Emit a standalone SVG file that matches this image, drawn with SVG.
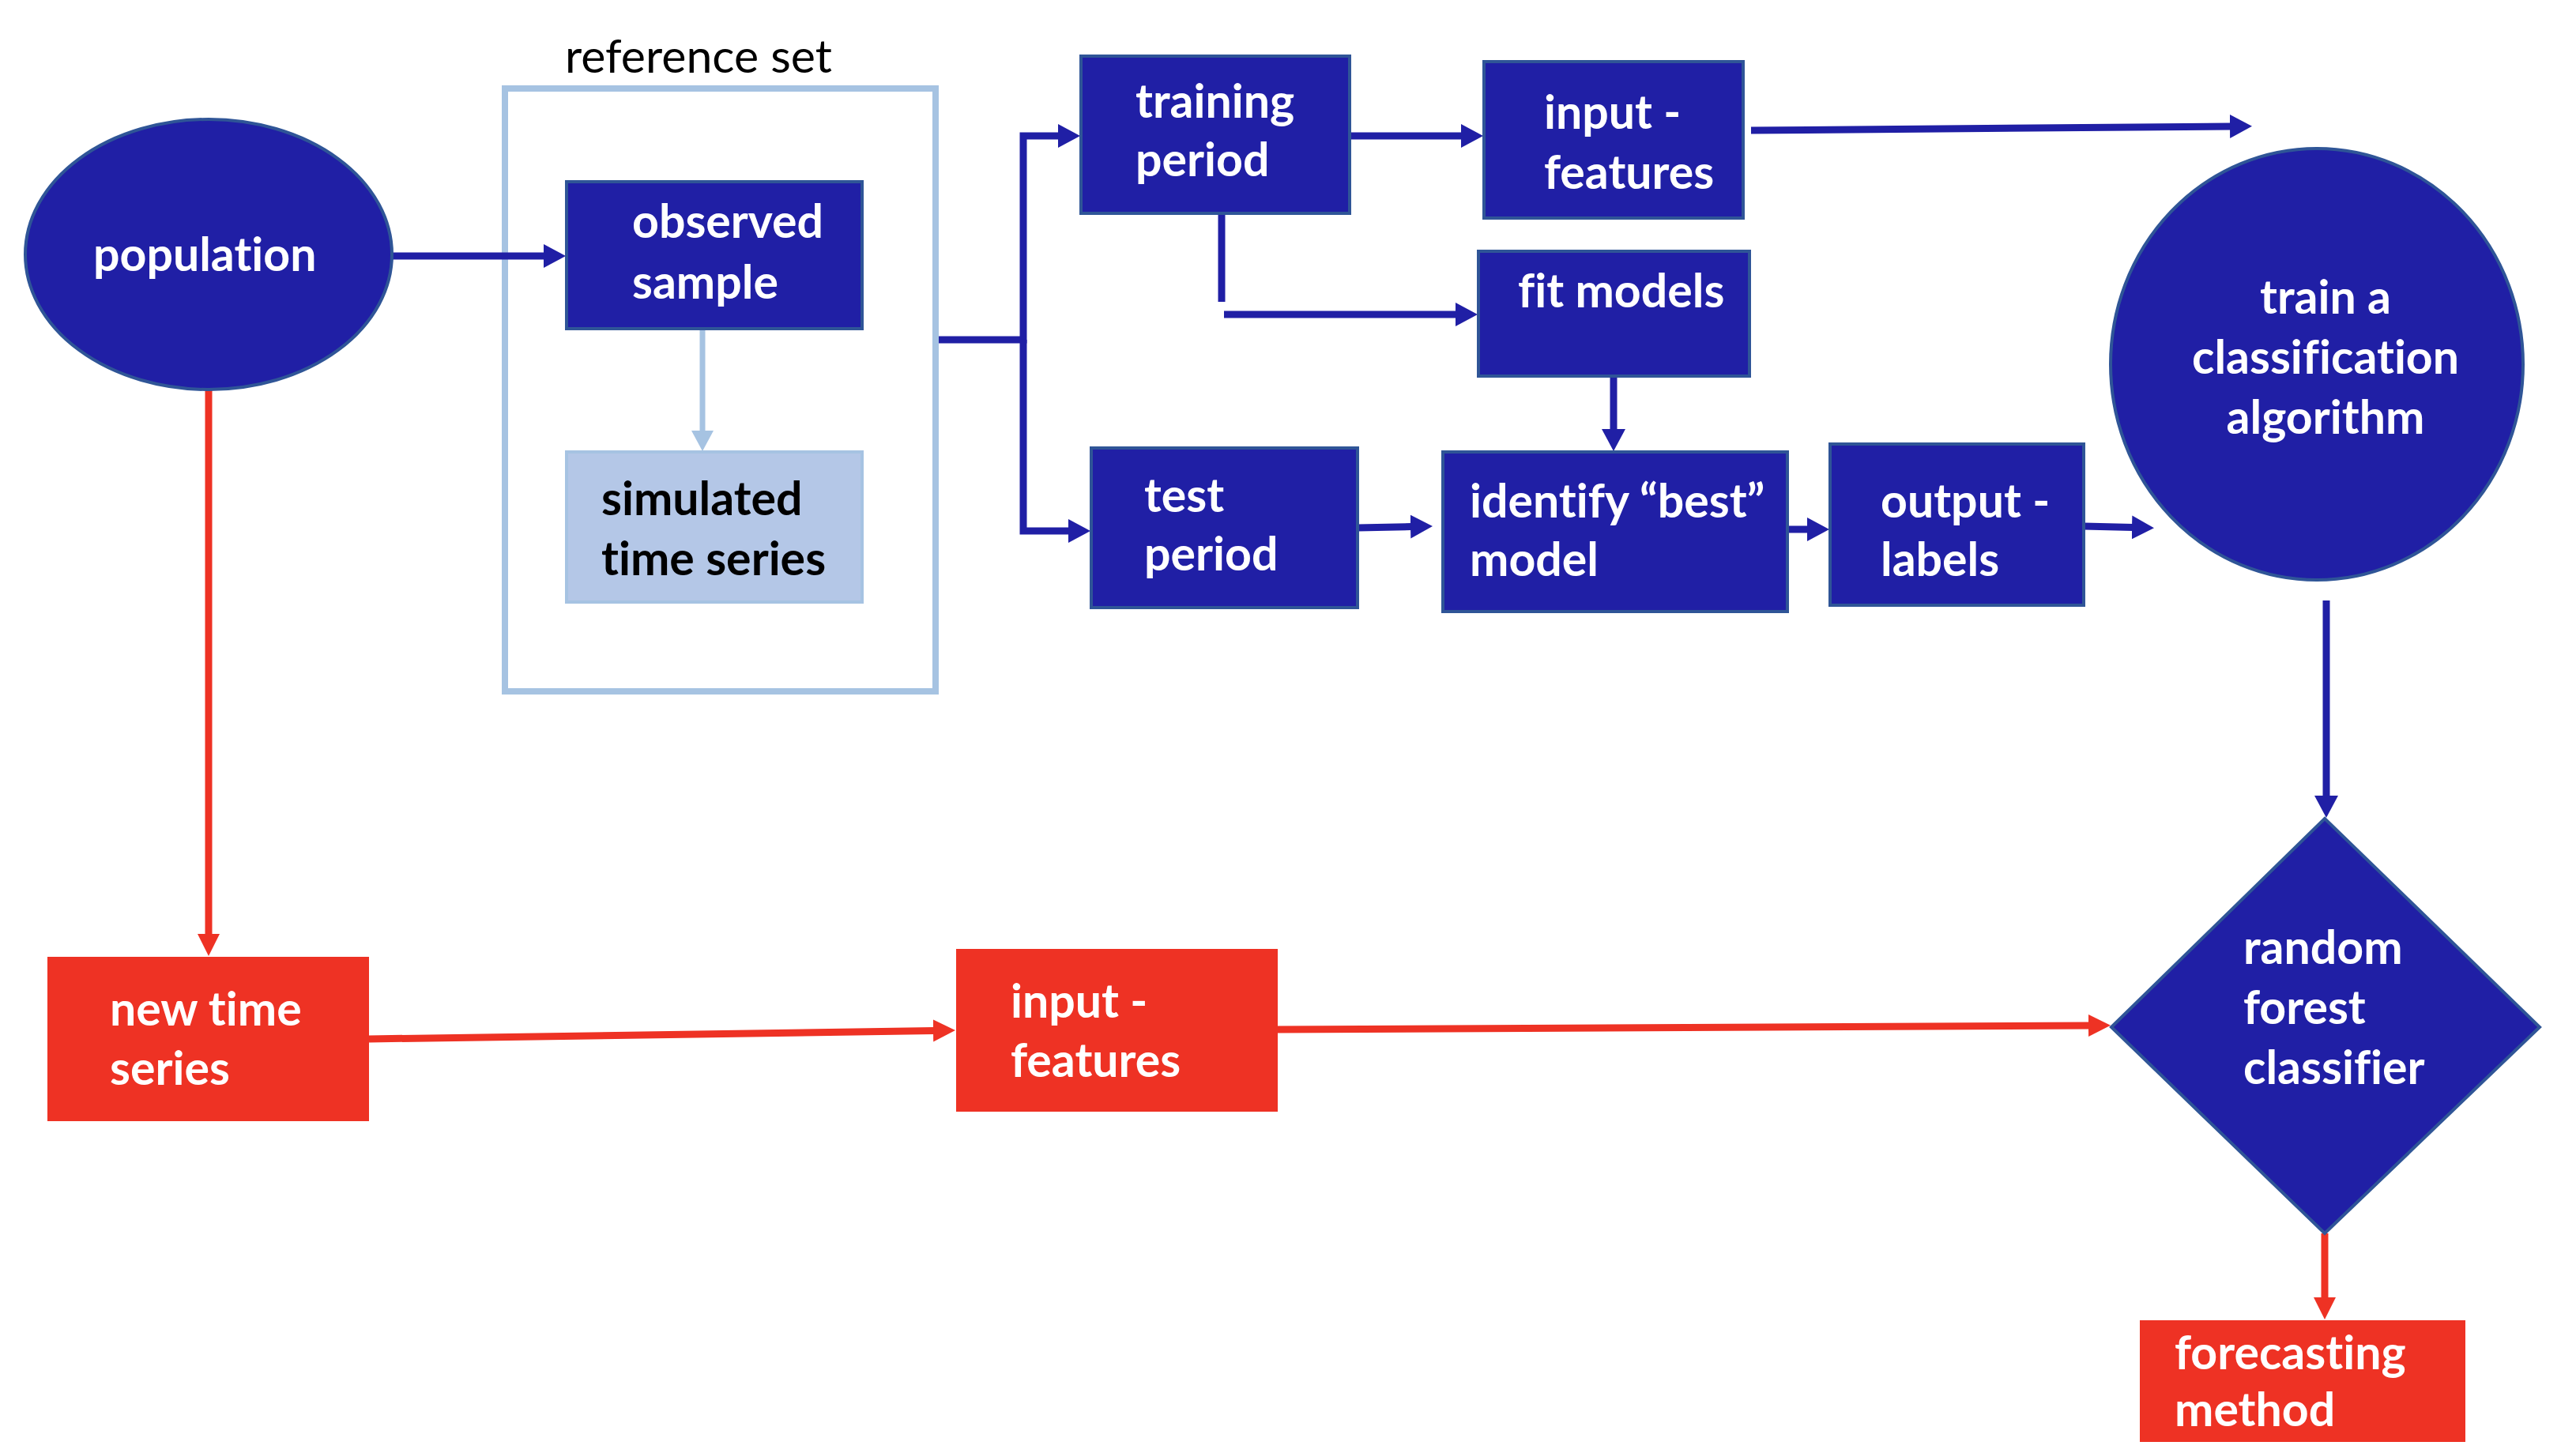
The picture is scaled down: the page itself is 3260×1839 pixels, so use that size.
<svg xmlns="http://www.w3.org/2000/svg" width="3260" height="1839" viewBox="0 0 3260 1839">
<defs>
<style>
text{font-variant-ligatures:none;font-feature-settings:"liga" 0}
.bn{fill:#201FA5;stroke:#2F5597;stroke-width:4}
.rn{fill:#EE3224}
.sim{fill:#B4C7E7;stroke:#A6C3E2;stroke-width:4}
.t{font-family:Lato,"Liberation Sans",sans-serif;font-weight:bold;font-size:59px;fill:#FFFFFF}
.tk{font-family:Lato,"Liberation Sans",sans-serif;font-weight:bold;font-size:59px;fill:#000000}
.lbl{font-family:Lato,"Liberation Sans",sans-serif;font-size:59px;fill:#000000}
.cb{fill:none;stroke:#201FA5;stroke-width:9}
.cr{fill:none;stroke:#EE3224;stroke-width:9}
.cl{fill:none;stroke:#A6C3E2;stroke-width:7}
</style>
<marker id="ab" markerUnits="userSpaceOnUse" markerWidth="30" markerHeight="30" refX="1" refY="15" orient="auto"><path d="M0,0 L28,15 L0,30 z" fill="#201FA5"/></marker>
<marker id="ar" markerUnits="userSpaceOnUse" markerWidth="30" markerHeight="30" refX="1" refY="15" orient="auto"><path d="M0,1 L28,15 L0,29 z" fill="#EE3224"/></marker>
<marker id="al" markerUnits="userSpaceOnUse" markerWidth="30" markerHeight="30" refX="1" refY="15" orient="auto"><path d="M0,1 L26,15 L0,29 z" fill="#A6C3E2"/></marker>
</defs>
<rect width="3260" height="1839" fill="#FFFFFF"/>

<g id="reference-set">
<rect x="639" y="112" width="545" height="763" fill="none" stroke="#A6C3E2" stroke-width="8"/>
<text class="lbl" x="715" y="92">reference set</text>
</g>

<g id="connectors">
<path class="cb" d="M496,324 H689" marker-end="url(#ab)"/>
<path class="cl" d="M889,416 V546" marker-end="url(#al)"/>
<path class="cb" d="M1188,430 H1295 V172 H1340" marker-end="url(#ab)"/>
<path class="cb" d="M1295,430 V672 H1353" marker-end="url(#ab)"/>
<path class="cb" d="M1708,172 H1850" marker-end="url(#ab)"/>
<path class="cb" d="M1546,270 V382"/>
<path class="cb" d="M1549,398 H1843" marker-end="url(#ab)"/>
<path class="cb" d="M2042,476 V544" marker-end="url(#ab)"/>
<path class="cb" d="M1718,668 L1786,666.5" marker-end="url(#ab)"/>
<path class="cb" d="M2262,670 H2288" marker-end="url(#ab)"/>
<path class="cb" d="M2637,666 L2699,667.5" marker-end="url(#ab)"/>
<path class="cb" d="M2216,165 L2823,160" marker-end="url(#ab)"/>
<path class="cb" d="M2944,760 V1008" marker-end="url(#ab)"/>
<path class="cr" d="M264,493 V1183" marker-end="url(#ar)"/>
<path class="cr" d="M467,1315 L1182,1304.5" marker-end="url(#ar)"/>
<path class="cr" d="M1617,1303 L2644,1298" marker-end="url(#ar)"/>
<path class="cr" d="M2942,1561 V1643" marker-end="url(#ar)"/>
</g>

<g id="population">
<ellipse class="bn" cx="264" cy="322" rx="232" ry="171"/>
<text class="t" x="118" y="343">population</text>
</g>

<g id="observed-sample">
<rect class="bn" x="717" y="230" width="374" height="186"/>
<text class="t" x="800" y="301">observed</text>
<text class="t" x="800" y="378">sample</text>
</g>

<g id="simulated-time-series">
<rect class="sim" x="717" y="572" width="374" height="190"/>
<text class="tk" x="761" y="652">simulated</text>
<text class="tk" x="761" y="728">time series</text>
</g>

<g id="training-period">
<rect class="bn" x="1368" y="71" width="340" height="199"/>
<text class="t" x="1437" y="149">training</text>
<text class="t" x="1437" y="223">period</text>
</g>

<g id="input-features-train">
<rect class="bn" x="1878" y="78" width="328" height="198"/>
<text class="t" x="1954" y="163">input -</text>
<text class="t" x="1954" y="239">features</text>
</g>

<g id="fit-models">
<rect class="bn" x="1871" y="318" width="343" height="158"/>
<text class="t" x="1921" y="389">fit models</text>
</g>

<g id="test-period">
<rect class="bn" x="1381" y="567" width="337" height="202"/>
<text class="t" x="1448" y="648">test</text>
<text class="t" x="1448" y="722">period</text>
</g>

<g id="identify-best-model">
<rect class="bn" x="1826" y="572" width="436" height="202"/>
<text class="t" x="1860" y="655">identify “best”</text>
<text class="t" x="1860" y="729">model</text>
</g>

<g id="output-labels">
<rect class="bn" x="2316" y="562" width="321" height="204"/>
<text class="t" x="2380" y="655">output -</text>
<text class="t" x="2380" y="729">labels</text>
</g>

<g id="train-classifier">
<ellipse class="bn" cx="2932" cy="461" rx="261" ry="273"/>
<text class="t" x="2943" y="397" text-anchor="middle">train a</text>
<text class="t" x="2943" y="473" text-anchor="middle">classification</text>
<text class="t" x="2943" y="549" text-anchor="middle">algorithm</text>
</g>

<g id="random-forest-classifier">
<polygon class="bn" points="2672,1300 2942,1036 3214,1300 2942,1561"/>
<text class="t" x="2839" y="1220">random</text>
<text class="t" x="2839" y="1296">forest</text>
<text class="t" x="2839" y="1372">classifier</text>
</g>

<g id="new-time-series">
<rect class="rn" x="60" y="1211" width="407" height="208"/>
<text class="t" x="139" y="1298">new time</text>
<text class="t" x="139" y="1373">series</text>
</g>

<g id="input-features-new">
<rect class="rn" x="1210" y="1201" width="407" height="206"/>
<text class="t" x="1279" y="1288">input -</text>
<text class="t" x="1279" y="1363">features</text>
</g>

<g id="forecasting-method">
<rect class="rn" x="2708" y="1671" width="412" height="154"/>
<text class="t" x="2752" y="1733">forecasting</text>
<text class="t" x="2752" y="1805">method</text>
</g>
</svg>
